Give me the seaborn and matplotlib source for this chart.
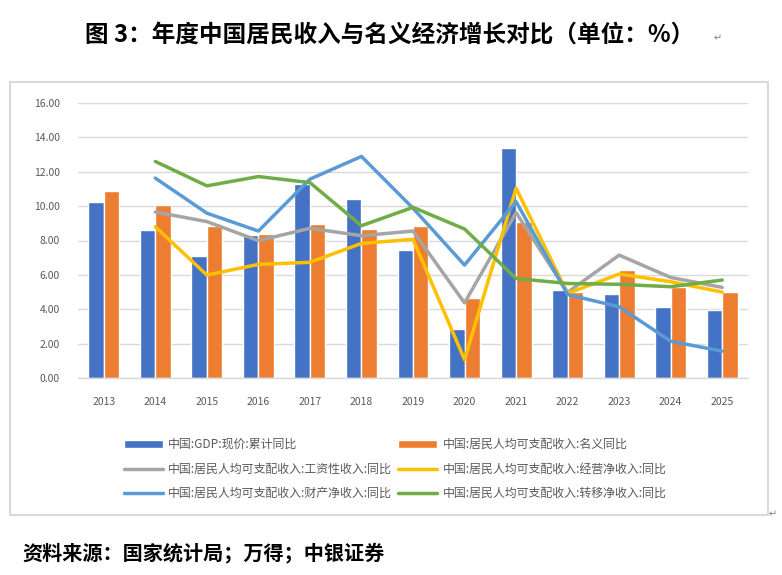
import matplotlib
matplotlib.use("Agg")
import matplotlib.pyplot as plt
from matplotlib.patches import Rectangle, Patch
from matplotlib.lines import Line2D
import seaborn as sns
import pandas as pd

years = ["2013", "2014", "2015", "2016", "2017", "2018", "2019",
         "2020", "2021", "2022", "2023", "2024", "2025"]
gdp = [10.24, 8.61, 7.10, 8.32, 11.29, 10.42, 7.45, 2.84, 13.39, 5.11, 4.88, 4.12, 3.94]
income = [10.89, 10.07, 8.86, 8.38, 8.96, 8.67, 8.85, 4.65, 9.10, 4.98, 6.28, 5.31, 5.00]
# line series start in 2014
wage = [9.66, 9.10, 7.99, 8.71, 8.28, 8.55, 4.37, 9.62, 4.98, 7.15, 5.85, 5.27]
business = [8.80, 5.99, 6.61, 6.73, 7.83, 8.07, 1.07, 11.04, 4.92, 6.05, 5.60, 5.00]
property_inc = [11.63, 9.59, 8.55, 11.57, 12.89, 9.88, 6.57, 10.26, 4.86, 4.14, 2.14, 1.56]
transfer = [12.60, 11.18, 11.72, 11.37, 8.86, 9.93, 8.67, 5.79, 5.50, 5.45, 5.31, 5.70]

bar_names = ["中国:GDP:现价:累计同比", "中国:居民人均可支配收入:名义同比"]
line_names = ["中国:居民人均可支配收入:工资性收入:同比",
              "中国:居民人均可支配收入:经营净收入:同比",
              "中国:居民人均可支配收入:财产净收入:同比",
              "中国:居民人均可支配收入:转移净收入:同比"]
bar_colors = ["#4472C4", "#ED7D31"]
line_colors = ["#A5A5A5", "#FFC000", "#5B9BD5", "#70AD47"]

sns.set_theme(style="white")
plt.rcParams["font.family"] = ["Noto Sans CJK SC", "DejaVu Sans"]

bars = pd.DataFrame({
    "year": years * 2,
    "value": gdp + income,
    "series": [bar_names[0]] * len(years) + [bar_names[1]] * len(years),
})
line_years = years[1:]
lines = pd.DataFrame({
    "pos": [years.index(y) for y in line_years] * 4,
    "value": wage + business + property_inc + transfer,
    "series": sum([[n] * len(line_years) for n in line_names], []),
})

fig = plt.figure(figsize=(7.82, 5.75), dpi=100)
ax = fig.add_axes([78 / 782, 1 - 378 / 575, 670 / 782, 275 / 575])

sns.barplot(data=bars, x="year", y="value", hue="series", order=years,
            palette=bar_colors, width=0.6, saturation=1, legend=False, ax=ax)
sns.lineplot(data=lines, x="pos", y="value", hue="series",
             palette=line_colors, linewidth=2.5, legend=False, ax=ax)

ax.set_xlim(-0.5, len(years) - 0.5)
ax.set_ylim(0, 16)
ax.set_yticks(range(0, 17, 2))
ax.set_yticklabels([f"{v:.2f}" for v in range(0, 17, 2)])
ax.set_xticks(range(len(years)))
ax.set_xticklabels(years)
ax.set_xticks([i - 0.5 for i in range(len(years) + 1)], minor=True)
ax.tick_params(axis="x", which="major", length=0, pad=14, labelsize=7.5, colors="#595959")
ax.tick_params(axis="x", which="minor", length=4, color="#D9D9D9", width=1, direction="out")
ax.tick_params(axis="y", length=0, pad=13, labelsize=7.5, colors="#595959")
ax.set_xlabel("")
ax.set_ylabel("")
ax.yaxis.grid(True, color="#D9D9D9", linewidth=1)
ax.set_axisbelow(True)
for s in ["top", "right", "left"]:
    ax.spines[s].set_visible(False)
ax.spines["bottom"].set_color("#D9D9D9")
ax.spines["bottom"].set_linewidth(1)

# chart border
fig.patches.append(Rectangle((10 / 782, 1 - 515 / 575), 758 / 782, 433 / 575,
                             transform=fig.transFigure, fill=False,
                             edgecolor="#D9D9D9", linewidth=1.5))

handles = [Patch(facecolor=bar_colors[0], label=bar_names[0]),
           Line2D([], [], color=line_colors[0], lw=2.5, label=line_names[0]),
           Line2D([], [], color=line_colors[2], lw=2.5, label=line_names[2]),
           Patch(facecolor=bar_colors[1], label=bar_names[1]),
           Line2D([], [], color=line_colors[1], lw=2.5, label=line_names[1]),
           Line2D([], [], color=line_colors[3], lw=2.5, label=line_names[3])]
leg = fig.legend(handles=handles, ncol=2, loc="center", bbox_to_anchor=(395 / 782, 1 - 469 / 575),
                 frameon=False, fontsize=8.6, handlelength=3.3, handleheight=0.55,
                 handletextpad=0.42, columnspacing=0.5, labelspacing=0.95)
for t in leg.get_texts():
    t.set_color("#595959")

fig.text(390 / 782, 1 - 35 / 575, "图 3：年度中国居民收入与名义经济增长对比（单位：%）",
         ha="center", va="center", fontsize=17, fontweight="bold", color="black")
fig.text(718 / 782, 1 - 38 / 575, "↵", ha="center", va="center", fontsize=7,
         color="#808080", family="DejaVu Sans")
fig.text(773 / 782, 1 - 514 / 575, "↵", ha="center", va="center", fontsize=7,
         color="#808080", family="DejaVu Sans")
fig.text(22 / 782, 1 - 553 / 575, "资料来源：国家统计局；万得；中银证券",
         ha="left", va="center", fontsize=14.5, fontweight="bold", color="black")

fig.savefig("out.png", dpi=100)
